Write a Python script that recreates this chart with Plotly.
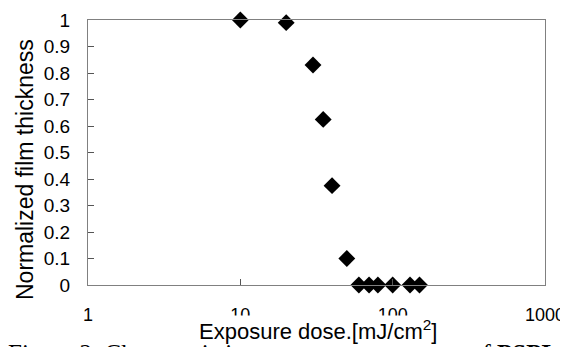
import plotly.graph_objects as go

dose = [10, 20, 30, 35, 40, 50, 60, 70, 80, 100, 130, 150]
thickness = [1.0, 0.99, 0.83, 0.625, 0.375, 0.1, 0, 0, 0, 0, 0, 0]
x_ticks = [1, 10, 100, 1000]
y_ticks = [0, 0.1, 0.2, 0.3, 0.4, 0.5, 0.6, 0.7, 0.8, 0.9, 1]

# page body has an 8px default margin; figure is drawn from (8, 8)
OFF = 8
W, H = 568 - OFF, 347 - OFF
L, R, T, B = 88 - OFF, 23, 20 - OFF, 62
pw = W - L - R
ph = H - T - B

fig = go.Figure()
fig.add_trace(go.Scatter(
    x=dose, y=thickness, mode="markers",
    marker=dict(symbol="diamond", size=13, color="black"),
    cliponaxis=False, showlegend=False))

xfont = dict(family="Liberation Sans, Arial", size=18, color="black")
yfont = dict(family="Liberation Sans, Arial", size=19, color="black")
fig.update_layout(
    width=W, height=H,
    margin=dict(l=L, r=R, t=T, b=B, autoexpand=False),
    paper_bgcolor="white", plot_bgcolor="white",
    xaxis=dict(type="log", range=[0, 3], tickvals=x_ticks,
               ticktext=[str(v) for v in x_ticks],
               ticks="inside", ticklen=6, tickcolor="#555", tickwidth=1,
               showline=True, linecolor="#808080", linewidth=1, mirror=True,
               showgrid=False, zeroline=False, tickfont=xfont,
               ticklabelstandoff=13, automargin=False),
    yaxis=dict(range=[0, 1], tickvals=y_ticks,
               ticks="inside", ticklen=6, tickcolor="#555", tickwidth=1,
               showline=True, linecolor="#808080", linewidth=1, mirror=True,
               showgrid=False, zeroline=False, tickfont=yfont,
               ticklabelstandoff=13, automargin=False),
)

def px_x(wx):
    return (wx - OFF - L) / pw

def px_y(wy):
    return (H - B - (wy - OFF)) / ph

cap_font = dict(family="Liberation Serif, Times New Roman", size=25, color="black")
fig.add_annotation(
    text="Figure 2. Characteristic",
    xref="paper", yref="paper", x=px_x(6), y=px_y(337.5),
    xanchor="left", yanchor="top", showarrow=False, font=cap_font)
fig.add_annotation(
    text="of <b>PSPL</b>",
    xref="paper", yref="paper", x=px_x(468), y=px_y(337.5),
    xanchor="left", yanchor="top", showarrow=False, font=cap_font)
fig.add_annotation(
    text="Exposure dose.[mJ/cm<sup>2</sup>]",
    xref="paper", yref="paper", x=px_x(318), y=px_y(330),
    xanchor="center", yanchor="middle", showarrow=False,
    bgcolor="white", borderpad=0,
    font=dict(family="Liberation Sans, Arial", size=22, color="black"))
fig.add_annotation(
    text="Normalized film thickness",
    xref="paper", yref="paper", x=px_x(25), y=px_y(170),
    xanchor="center", yanchor="middle", textangle=-90, showarrow=False,
    font=dict(family="Liberation Sans, Arial", size=23, color="black"))

fig.write_html("out.html")
